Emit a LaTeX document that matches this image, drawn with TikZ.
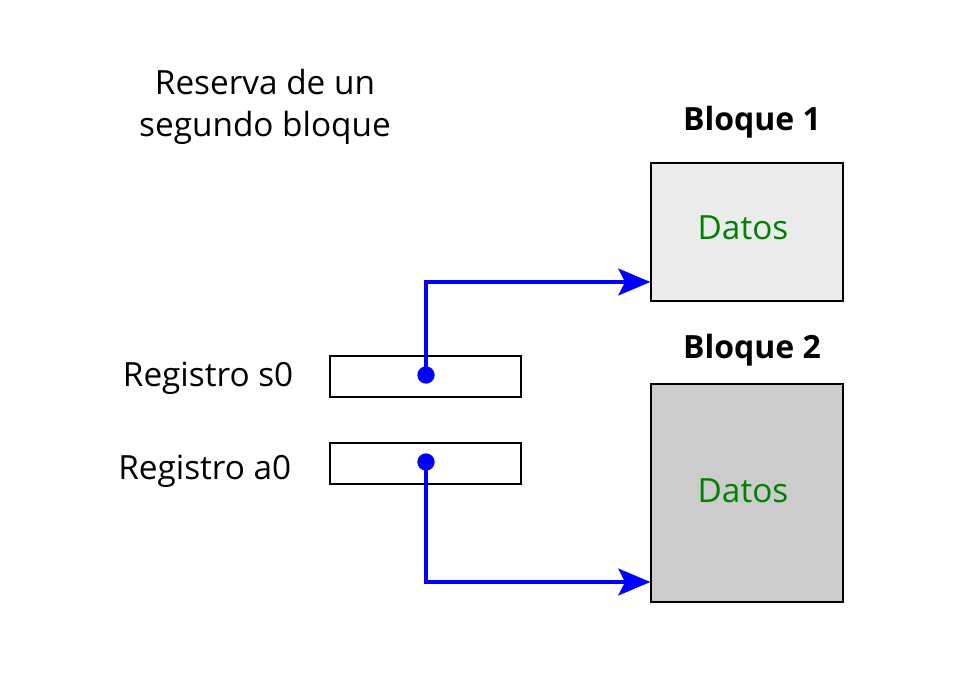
\documentclass[tikz,border=0pt]{standalone}
\usepackage{fontspec}
\setmainfont{Open Sans}
\usetikzlibrary{arrows.meta}

\definecolor{grisclaro}{HTML}{EBEBEB}
\definecolor{grisoscuro}{HTML}{CCCCCC}
\definecolor{verdedatos}{HTML}{008000}

\tikzset{
    registro/.style={draw, line width=1.2pt, minimum width=143.25pt, minimum height=30.75pt, inner sep=0pt},
    bloque/.style={draw, line width=0.9pt, minimum width=144pt, inner sep=0pt},
    puntero/.style={blue, line width=3.3pt, -{Stealth[length=24pt, width=20pt, inset=5pt]}},
    texto/.style={font=\fontsize{25}{32}\selectfont}
}

\begin{document}
\begin{tikzpicture}[x=0.75pt, y=-0.75pt]

    % Marco
    \useasboundingbox (0,0) rectangle (975,676);

    % Titulo
    \node[texto, align=center] (titulo) at (265,107) {Reserva de un\\segundo bloque};

    % Bloques
    \node[bloque, fill=grisclaro, minimum height=103.5pt] (b1) at (747,232) {};
    \node[bloque, fill=grisoscuro, minimum height=163.5pt] (b2) at (747,493) {};
    \node[texto, text=verdedatos] (d1) at (743,228) {Datos};
    \node[texto, text=verdedatos] (d2) at (743,491) {Datos};
    \node[texto, font=\fontsize{24}{32}\selectfont\bfseries] (e1) at (752,122) {Bloque 1};
    \node[texto, font=\fontsize{24}{32}\selectfont\bfseries] (e2) at (752,350) {Bloque 2};

    % Registros
    \node[registro] (s0) at (425.5,376.5) {};
    \node[registro] (a0) at (425.5,463.5) {};
    \node[texto, anchor=east] (ls0) at (298,378) {Registro s0};
    \node[texto, anchor=east] (la0) at (296,471) {Registro a0};

    % Punteros
    \coordinate (ps0) at (426,375);
    \coordinate (pa0) at (426,462);
    \fill[blue] (ps0) circle (6.5pt);
    \fill[blue] (pa0) circle (6.5pt);
    \draw[puntero] (ps0) |- (b1.west |- 0,282);
    \draw[puntero] (pa0) |- (b2.west |- 0,582);

\end{tikzpicture}
\end{document}
